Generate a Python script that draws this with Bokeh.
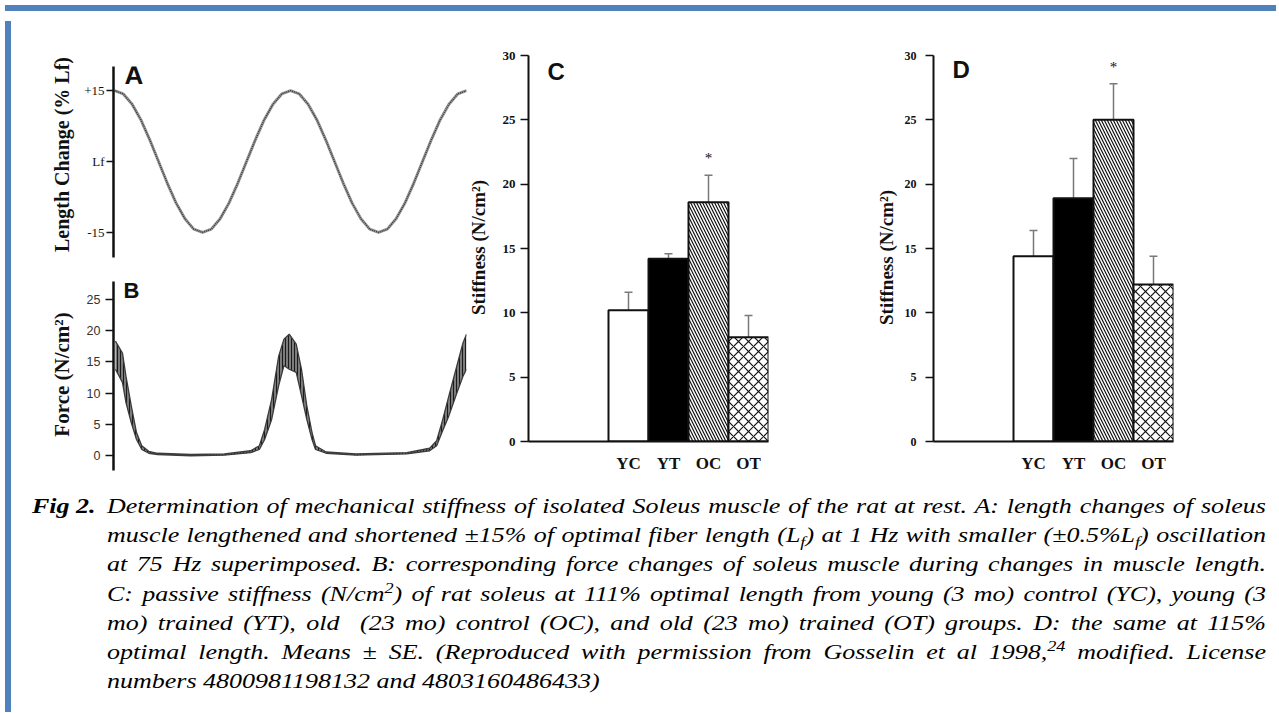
import math
from bokeh.plotting import figure
from bokeh.models import Range1d, FixedTicker, Label, Div, ColumnDataSource, Whisker, TeeHead
from bokeh.layouts import column, row
from bokeh.core.properties import value
from bokeh.embed import file_html
from bokeh.resources import INLINE

# ---------------- data ----------------
# Panel A: length change (% Lf) vs time (s)
length_time = [0.00, 0.05, 0.10, 0.15, 0.20, 0.25, 0.30, 0.35, 0.40, 0.45,
               0.50, 0.55, 0.60, 0.65, 0.70, 0.75, 0.80, 0.85, 0.90, 0.95,
               1.00, 1.05, 1.10, 1.15, 1.20, 1.25, 1.30, 1.35, 1.40, 1.45,
               1.50, 1.55, 1.60, 1.65, 1.70, 1.75, 1.80, 1.85, 1.90, 1.95, 2.00]
length_change = [15.0, 14.3, 12.1, 8.8, 4.6, 0.0, -4.6, -8.8, -12.1, -14.3,
                 -15.0, -14.3, -12.1, -8.8, -4.6, 0.0, 4.6, 8.8, 12.1, 14.3,
                 15.0, 14.3, 12.1, 8.8, 4.6, 0.0, -4.6, -8.8, -12.1, -14.3,
                 -15.0, -14.3, -12.1, -8.8, -4.6, 0.0, 4.6, 8.8, 12.1, 14.3, 15.0]
length_ticks = [-15, 0, 15]
length_tick_labels = ["-15", "Lf", "+15"]

# Panel B: force (N/cm2) vs time (s), upper / lower envelope of the 75 Hz ripple
force_time = [0.00, 0.04, 0.06, 0.09, 0.12, 0.15, 0.19, 0.24, 0.43, 0.62, 0.77, 0.82,
              0.85, 0.89, 0.93, 0.96, 0.99, 1.03, 1.06, 1.09, 1.12, 1.14, 1.20, 1.37,
              1.66, 1.79, 1.83, 1.86, 1.90, 1.94, 1.98, 2.00]
force_upper = [18.3, 16.4, 12.7, 8.0, 3.7, 1.6, 0.7, 0.4, 0.2, 0.3, 0.8, 1.6,
               4.2, 9.0, 15.9, 18.6, 19.4, 17.8, 13.8, 8.0, 3.7, 1.6, 0.6, 0.3,
               0.5, 1.2, 2.4, 5.3, 9.6, 13.8, 18.0, 19.4]
force_lower = [13.8, 11.7, 8.5, 5.3, 2.6, 1.0, 0.4, 0.2, 0.0, 0.1, 0.5, 1.0,
               2.6, 5.8, 11.2, 14.4, 13.8, 13.3, 9.6, 5.8, 2.6, 1.0, 0.4, 0.1,
               0.3, 0.8, 1.6, 3.7, 6.4, 9.6, 12.7, 13.8]
force_ticks = [0, 5, 10, 15, 20, 25]

# Panels C / D: stiffness (N/cm2)
groups = ["YC", "YT", "OC", "OT"]
stiff_111 = [10.2, 14.2, 18.6, 8.1]
se_111 = [1.4, 0.4, 2.1, 1.7]
stiff_115 = [14.4, 18.9, 25.0, 12.2]
se_115 = [2.0, 3.1, 2.8, 2.2]
signif = ["", "", "*", ""]
stiff_ticks = [0, 5, 10, 15, 20, 25, 30]

caption_label = "Fig 2."
caption_lines = [
    "Determination of mechanical stiffness of isolated Soleus muscle of the rat at rest. A: length changes of soleus",
    "muscle lengthened and shortened &plusmn;15% of optimal fiber length (L<sub>f</sub>) at 1 Hz with smaller (&plusmn;0.5%L<sub>f</sub>) oscillation",
    "at 75 Hz superimposed. B: corresponding force changes of soleus muscle during changes in muscle length.",
    "C: passive stiffness (N/cm<sup>2</sup>) of rat soleus at 111% optimal length from young (3 mo) control (YC), young (3",
    "mo) trained (YT), old&nbsp; (23 mo) control (OC), and old (23 mo) trained (OT) groups. D: the same at 115%",
    "optimal length. Means &plusmn; SE. (Reproduced with permission from Gosselin et al 1998,<sup>24</sup> modified. License",
    "numbers 4800981198132 and 4803160486433)",
]

# ---------------- style ----------------
SERIF = "Liberation Serif"
SANS = "Liberation Sans"
LETTER = "Liberation Sans Narrow, Liberation Sans"
BLUE = "#4f81bd"
INK = "#111111"

# page-pixel geometry of the title strips (their frames are aligned with panel C/D frames)
STRIP_TOP, STRIP_BOTTOM = 53.0, 439.0


def strip_fy(page_y):
    return (STRIP_BOTTOM - page_y) / (STRIP_BOTTOM - STRIP_TOP)


def base_fig(width, height, xr, yr, bl, br, bt, bb, x_axis=True):
    kw = dict(width=width, height=height, x_range=xr, y_range=yr,
              output_backend="svg", toolbar_location=None,
              min_border_left=bl, min_border_right=br, min_border_top=bt, min_border_bottom=bb)
    if not x_axis:
        kw["x_axis_type"] = None
    p = figure(**kw)
    p.outline_line_color = None
    p.grid.visible = False
    p.background_fill_color = "white"
    p.border_fill_color = "white"
    return p


def label_fig(width, height, labels):
    """A bare strip that holds rotated axis titles; labels = [(text, fx, fy, size)]."""
    p = figure(width=width, height=height, x_range=Range1d(0, 1), y_range=Range1d(0, 1),
               x_axis_type=None, y_axis_type=None, output_backend="svg",
               toolbar_location=None, min_border=0)
    p.outline_line_color = None
    p.background_fill_color = "white"
    p.border_fill_color = "white"
    for text, fx, fy, size in labels:
        p.add_layout(Label(x=fx, y=fy, text=text, angle=math.pi / 2,
                           text_align="center", text_baseline="middle",
                           text_font=SERIF, text_font_size=size, text_font_style="bold",
                           text_color=INK))
    return p


def letter(p, text, dx, dy, size):
    p.add_layout(Label(x=p.x_range.start, y=p.y_range.end, x_offset=dx, y_offset=dy,
                       text=text, text_align="left", text_baseline="top",
                       text_font=LETTER, text_font_size=size, text_font_style="bold",
                       text_color=INK))


def style_yaxis(ax, ticks, font, size, bold, standoff, tick_out, line_w):
    ax.ticker = FixedTicker(ticks=ticks)
    ax.axis_line_width = line_w
    ax.axis_line_color = INK
    ax.major_tick_out = tick_out
    ax.major_tick_in = 0
    ax.major_tick_line_width = 1.5
    ax.major_tick_line_color = INK
    ax.minor_tick_out = 0
    ax.minor_tick_in = 0
    ax.major_label_text_font = font
    ax.major_label_text_font_size = size
    ax.major_label_text_font_style = "bold" if bold else "normal"
    ax.major_label_text_color = INK
    ax.major_label_standoff = standoff


# ---------------- Panels A / B title strip ----------------
labAB = label_fig(60, 464, [("Length Change (% Lf)", 0.75, strip_fy(152), "20px"),
                            ("Force (N/cm²)", 0.76, strip_fy(372), "21px")])

# ---------------- Panel A ----------------
pA = base_fig(391, 251, Range1d(-0.006, 2.0), Range1d(-20.3, 20.1), 37, 1, 50, 10, x_axis=False)
axA = pA.yaxis[0]
style_yaxis(axA, length_ticks, SERIF, "13px", False, 2, 7, 2.5)
axA.major_label_overrides = dict(zip(length_ticks, length_tick_labels))
pA.line(length_time, length_change, line_color="#9a9a9a", line_width=3.0)
pA.line(length_time, length_change, line_color="#3a3a3a", line_width=1.5, line_dash="1 1")
letter(pA, "A", 11, 7, "26px")

# ---------------- Panel B ----------------
pB = base_fig(391, 213, Range1d(-0.011, 2.0), Range1d(-2.35, 27.8), 36, 1, 14, 10, x_axis=False)
axB = pB.yaxis[0]
style_yaxis(axB, force_ticks, SANS, "12.5px", False, 5, 8, 2.5)
axB.major_label_text_color = "#333333"
srcB = ColumnDataSource(dict(t=force_time, up=force_upper, lo=force_lower))
pB.varea(x="t", y1="lo", y2="up", source=srcB, fill_color="#7c7c7c",
         hatch_pattern="vertical_line", hatch_color="#1a1a1a", hatch_scale=3, hatch_weight=1)
pB.line("t", "up", source=srcB, line_color="#3c3c3c", line_width=1.3)
pB.line("t", "lo", source=srcB, line_color="#3c3c3c", line_width=1.3)
letter(pB, "B", 10, 4, "22px")

# ---------------- Panels C / D ----------------
LEAD_SLOTS = 2  # empty bar slots left of the first bar
fills = ["white", "black", "white", "white"]
hatches = ["blank", "blank", "left_diagonal_line", "diagonal_cross"]
hatch_scales = [6, 6, 6, 10]


def bar_panel(vals, errs, letter_text, width, bl, br, bt, bb, tick_standoff, tick_size, letter_dy):
    n = len(groups)
    xs = [i + LEAD_SLOTS + 0.5 for i in range(n)]
    p = base_fig(width, 464, Range1d(0, n + LEAD_SLOTS), Range1d(0, 30), bl, br, bt, bb)
    src = ColumnDataSource(dict(x=xs, top=vals, fill=fills, hatch=hatches, hs=hatch_scales,
                                upper=[v + e for v, e in zip(vals, errs)], sig=signif))
    w = Whisker(base="x", lower="top", upper="upper", source=src, dimension="height",
                line_color="#7a7a7a", line_width=1.5,
                upper_head=TeeHead(size=8, line_color="#7a7a7a", line_width=1.5),
                lower_head=None)
    p.add_layout(w)
    p.vbar(x="x", top="top", width=1, source=src, fill_color="fill", line_color=INK,
           line_width=2, hatch_pattern="hatch", hatch_scale="hs", hatch_color=INK,
           hatch_weight=1.2)
    p.text(x="x", y="upper", text="sig", source=src, text_align="center",
           text_baseline="alphabetic", y_offset=-17, text_font=value(SERIF),
           text_font_size="15px", text_color=INK)
    ax = p.yaxis[0]
    style_yaxis(ax, stiff_ticks, SERIF, tick_size, True, tick_standoff, 8, 2)
    xa = p.xaxis[0]
    xa.ticker = FixedTicker(ticks=xs)
    xa.major_label_overrides = dict(zip(xs, groups))
    xa.axis_line_width = 2
    xa.axis_line_color = INK
    xa.major_tick_out = 0
    xa.major_tick_in = 0
    xa.minor_tick_out = 0
    xa.minor_tick_in = 0
    xa.major_label_text_font = SERIF
    xa.major_label_text_font_size = "17px"
    xa.major_label_text_font_style = "bold"
    xa.major_label_text_color = INK
    xa.major_label_standoff = 12
    letter(p, letter_text, 19, letter_dy, "24px")
    return p


labC = label_fig(26, 464, [("Stiffness (N/cm²)", 0.423, strip_fy(245), "19px")])
pC = bar_panel(stiff_111, se_111, "C", 379, 35, 104, 37, 39, 5, "13px", -2)
labD = label_fig(28, 464, [("Stiffness (N/cm²)", 0.5, strip_fy(255), "19px")])
pD = bar_panel(stiff_115, se_115, "D", 381, 33, 108, 39, 38, 9, "12px", 0)

# ---------------- caption ----------------
n_lines = len(caption_lines)
lines_html = "".join(
    '<div style="text-align:justify;text-align-last:%s;white-space:nowrap;">%s</div>'
    % ("justify" if i < n_lines - 1 else "left",
       ln.replace("<sup>", '<sup style="line-height:0;font-size:0.7em;">')
         .replace("<sub>", '<sub style="line-height:0;font-size:0.7em;">'))
    for i, ln in enumerate(caption_lines))
caption_html = (
    '<div style="margin-left:11px;margin-top:7px;width:949.2px;transform-origin:0 0;'
    'transform:scaleX(1.3);display:flex;font-family:\'Liberation Serif\',\'Times New Roman\',serif;'
    'font-style:italic;font-size:20px;line-height:29.2px;color:#000;">'
    '<div style="width:57.7px;flex:none;font-weight:bold;white-space:nowrap;">%s</div>'
    '<div style="width:891.5px;flex:none;">%s</div></div>' % (caption_label, lines_html))
caption = Div(text=caption_html, width=1265, height=227)

# ---------------- layout ----------------
top_bar = Div(text="", width=1271, height=6, styles={"background-color": BLUE})
left_bar = Div(text="", width=6, height=691, styles={"background-color": BLUE})
charts = row(labAB, column(pA, pB, spacing=0), labC, pC, labD, pD, spacing=0)
content = column(charts, caption, spacing=0)
root = column(top_bar, row(left_bar, content, spacing=0), spacing=0)

with open("out.html", "w", encoding="utf-8") as f:
    f.write(file_html(root, INLINE))
